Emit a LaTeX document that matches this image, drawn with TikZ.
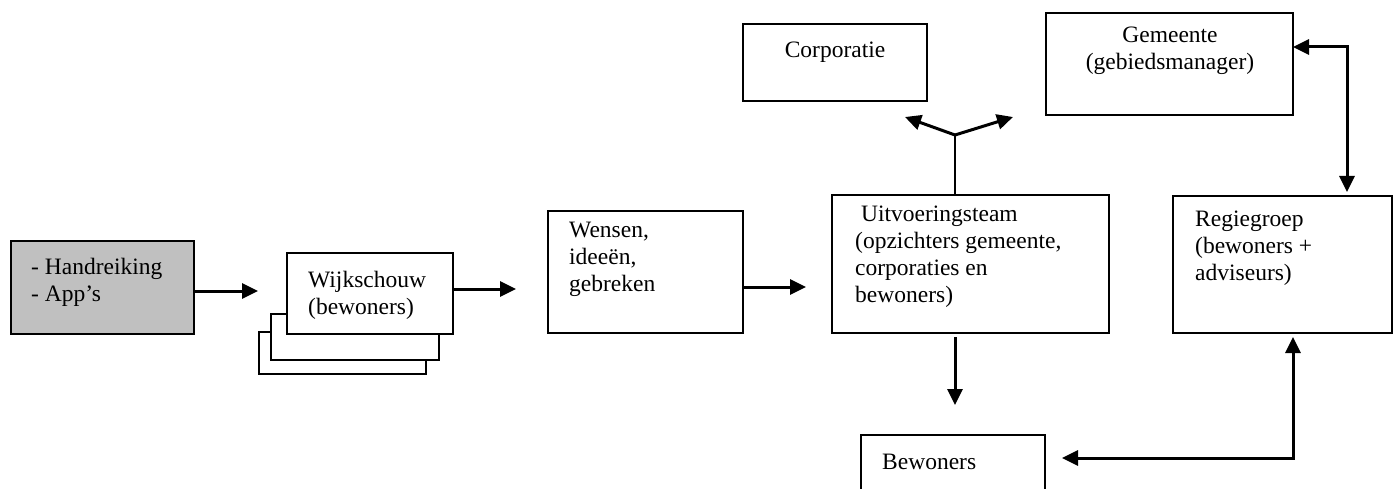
\documentclass[tikz,border=0pt]{standalone}
\usepackage{fontspec}
\setmainfont{Liberation Serif}
\usetikzlibrary{arrows.meta}
\definecolor{handgray}{RGB}{192,192,192}
\begin{document}
\begin{tikzpicture}[x=1pt,y=-1pt,
  box/.style={draw, line width=2pt, fill=white, inner sep=0pt, outer sep=0pt},
  txt/.style={anchor=north west, inner sep=0pt, align=left, font=\fontsize{23.5}{27}\selectfont},
  ctxt/.style={anchor=north, inner sep=0pt, align=center, font=\fontsize{23.5}{27}\selectfont},
  arr/.style={line width=3pt, -{Triangle[length=16pt,width=15pt]}},
  darr/.style={line width=3pt, {Triangle[length=16pt,width=15pt]}-{Triangle[length=16pt,width=15pt]}},
  thin/.style={line width=1.6pt}
]
\path[use as bounding box, clip] (0,0) rectangle (1395,489);

% boxes
\node[box, fill=handgray, minimum width=183pt, minimum height=93pt] (H) at (102.5,287.5) {};
\node[box, minimum width=167pt, minimum height=42pt] (W3) at (342.5,353) {};
\node[box, minimum width=168pt, minimum height=46pt] (W2) at (355,337) {};
\node[box, minimum width=166pt, minimum height=81pt] (W1) at (370,293.5) {};
\node[box, minimum width=195pt, minimum height=122pt] (Wen) at (645.5,272) {};
\node[box, minimum width=277pt, minimum height=138pt] (Uit) at (970.5,264) {};
\node[box, minimum width=184pt, minimum height=77pt] (Corp) at (835,62.5) {};
\node[box, minimum width=247pt, minimum height=102pt] (Gem) at (1169.5,64) {};
\node[box, minimum width=219pt, minimum height=137pt] (Regie) at (1282.5,264.5) {};
\node[box, minimum width=184pt, minimum height=85pt] (Bew) at (953,477.5) {};

% texts
\node[txt] (Ht) at (31,258) {- Handreiking\\- App’s};
\node[txt] (W1t) at (308,271) {Wijkschouw\\(bewoners)};
\node[txt] (Went) at (569,222) {Wensen,\\ideeën,\\gebreken};
\node[txt] (Uitt) at (855,206) {\hspace*{0.25em}Uitvoeringsteam\\(opzichters gemeente,\\corporaties en\\bewoners)};
\node[ctxt] (Corpt) at (835,42) {Corporatie};
\node[ctxt] (Gemt) at (1170,27) {Gemeente\\(gebiedsmanager)};
\node[txt] (Regiet) at (1195,211) {Regiegroep\\(bewoners +\\adviseurs)};
\node[txt] (Bewt) at (882,454) {Bewoners};

% connector end points
\coordinate (a1) at (258,291);
\coordinate (a2) at (516,289);
\coordinate (a3) at (806,287);
\coordinate (fk) at (955,135);
\coordinate (fl) at (905,117);
\coordinate (fr) at (1013,117);
\coordinate (gr) at (1347,47);
\coordinate (rb) at (1293,458);

% connectors
\draw[arr] (H.east |- a1) -- (a1);
\draw[arr] (W1.east |- a2) -- (a2);
\draw[arr] (Wen.east |- a3) -- (a3);
\draw[thin] (Uit.north -| fk) -- (fk);
\draw[arr] (fk) -- (fl);
\draw[arr] (fk) -- (fr);
\draw[arr, shorten <=4pt, shorten >=30pt] (Uit.south -| fk) -- (Bew.north -| fk);
\draw[darr, shorten >=4pt] (Gem.east |- gr) -- (gr) -- (Regie.north -| gr);
\draw[darr, shorten <=4pt, shorten >=17pt] (Regie.south -| rb) -- (rb) -- (Bew.east |- rb);
\end{tikzpicture}
\end{document}
